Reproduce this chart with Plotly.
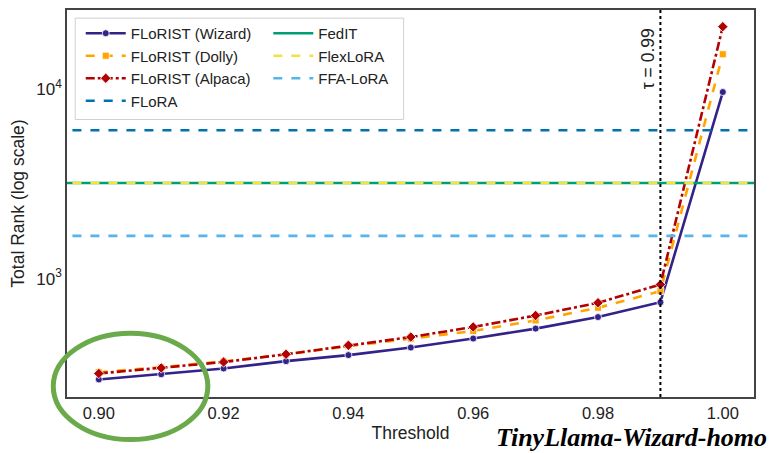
import plotly.graph_objects as go

thresholds = [0.90, 0.91, 0.92, 0.93, 0.94, 0.95, 0.96, 0.97, 0.98, 0.99, 1.00]
wizard = [293, 312, 335, 366, 394, 432, 482, 544, 626, 750, 9686]
dolly = [320, 340, 365, 398, 439, 481, 528, 601, 701, 858, 15350]
alpaca = [315, 337, 362, 398, 444, 491, 555, 638, 745, 930, 21480]
flora_rank = 6085
fedit_rank = 3200
flexlora_rank = 3200
ffalora_rank = 1683
tau = 0.99
x_ticks = [0.90, 0.92, 0.94, 0.96, 0.98, 1.00]
y_ticks = [1000, 10000]
y_tick_text = ["10<sup>3</sup>", "10<sup>4</sup>"]

C_WIZ = "#332288"
C_DOL = "#FFA500"
C_ALP = "#B30000"
C_FLORA = "#0072B2"
C_FEDIT = "#009E73"
C_FLEX = "#F0E442"
C_FFA = "#56B4E9"

fig = go.Figure()
xs = [thresholds[0] - 0.01, thresholds[-1] + 0.01]

fig.add_trace(go.Scatter(x=thresholds, y=wizard, mode="lines+markers", name="FLoRIST (Wizard)",
                         line=dict(color=C_WIZ, width=2.6), marker=dict(symbol="circle", size=7, color=C_WIZ, line=dict(color="white", width=0.8)),
                         legend="legend"))
fig.add_trace(go.Scatter(x=thresholds, y=dolly, mode="lines+markers", name="FLoRIST (Dolly)",
                         line=dict(color=C_DOL, width=2.6, dash="dash"), marker=dict(symbol="square", size=7, color=C_DOL, line=dict(color="white", width=0.8)),
                         legend="legend"))
fig.add_trace(go.Scatter(x=thresholds, y=alpaca, mode="lines+markers", name="FLoRIST (Alpaca)",
                         line=dict(color=C_ALP, width=2.6, dash="dashdot"), marker=dict(symbol="diamond", size=8, color=C_ALP, line=dict(color="white", width=0.8)),
                         legend="legend"))
fig.add_trace(go.Scatter(x=xs, y=[flora_rank] * 2, mode="lines", name="FLoRA",
                         line=dict(color=C_FLORA, width=2.6, dash="dash"), legend="legend"))
fig.add_trace(go.Scatter(x=xs, y=[fedit_rank] * 2, mode="lines", name="FedIT",
                         line=dict(color=C_FEDIT, width=2.6), legend="legend2"))
fig.add_trace(go.Scatter(x=xs, y=[flexlora_rank] * 2, mode="lines", name="FlexLoRA",
                         line=dict(color=C_FLEX, width=2.6, dash="dash"), legend="legend2"))
fig.add_trace(go.Scatter(x=xs, y=[ffalora_rank] * 2, mode="lines", name="FFA-LoRA",
                         line=dict(color=C_FFA, width=2.6, dash="dash"), legend="legend2"))

fig.add_shape(type="line", x0=tau, x1=tau, y0=0, y1=1, xref="x", yref="paper",
              line=dict(color="black", width=2, dash="dot"))
fig.add_annotation(x=tau, y=0.958, xref="x", yref="paper", text="τ = 0.99", textangle=-90,
                   showarrow=False, xanchor="right", yanchor="top", xshift=-1,
                   font=dict(family="Liberation Sans, Arial", size=17.5, color="#222"))

fig.add_shape(type="rect", xref="paper", yref="paper", x0=0.012, x1=0.49, y0=0.717, y1=0.979,
              line=dict(color="#d0d0d0", width=1), fillcolor="rgba(255,255,255,0.8)", layer="below")

fig.add_shape(type="circle", xref="paper", yref="paper", x0=-0.02, x1=0.205, y0=-0.11, y1=0.165,
              line=dict(color="#6aaa4a", width=5))

fig.add_annotation(text="<b><i>TinyLlama-Wizard-homo</i></b>", xref="paper", yref="paper",
                   x=1.022, y=-0.105, xanchor="right", yanchor="middle", showarrow=False,
                   font=dict(family="Liberation Serif, DejaVu Serif, serif", size=26, color="black"))

fig.update_layout(
    width=771, height=445,
    margin=dict(l=59, r=25, t=0, b=56, pad=0),
    paper_bgcolor="white", plot_bgcolor="white",
    font=dict(family="Liberation Sans, Arial, sans-serif", size=15, color="#222"),
    legend=dict(x=0.02, y=0.982, xanchor="left", yanchor="top", bgcolor="rgba(0,0,0,0)",
                font=dict(size=15), tracegroupgap=0, itemwidth=40),
    legend2=dict(x=0.293, y=0.982, xanchor="left", yanchor="top", bgcolor="rgba(0,0,0,0)",
                 font=dict(size=15), tracegroupgap=0, itemwidth=40),
    xaxis=dict(range=[0.8949, 1.005], tickvals=x_ticks, tickformat=".2f", showgrid=False,
               zeroline=False, showline=True, linecolor="#444", linewidth=1.5, mirror=True,
               ticks="", title=dict(text="Threshold", font=dict(size=17.5), standoff=6),
               tickfont=dict(size=16.5)),
    yaxis=dict(type="log", range=[2.374, 4.42], tickvals=y_ticks, ticktext=y_tick_text,
               showgrid=False, zeroline=False, showline=True, linecolor="#444", linewidth=1.5,
               mirror=True, ticks="", title=dict(text="Total Rank (log scale)", font=dict(size=17.5), standoff=8),
               tickfont=dict(size=17)),
)

fig.write_html("out.html")
